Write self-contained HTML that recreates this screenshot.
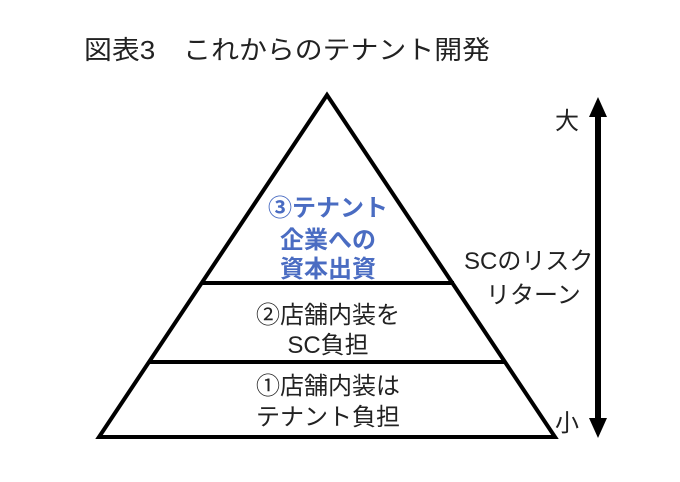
<!DOCTYPE html>
<html><head><meta charset="utf-8"><style>
html,body{margin:0;padding:0;background:#fff;}
svg{display:block;}
text{font-family:"Liberation Sans","Noto Sans CJK JP",sans-serif;}
</style></head><body>
<svg width="680" height="482" viewBox="0 0 680 482" xmlns="http://www.w3.org/2000/svg">
<text x="84" y="59" font-size="26" fill="#222" textLength="406" lengthAdjust="spacingAndGlyphs">図表3　これからのテナント開発</text>
<polygon points="327,95 99,437 555,437" fill="none" stroke="#000" stroke-width="4" stroke-linejoin="miter"/>
<line x1="201" y1="283" x2="454" y2="283" stroke="#000" stroke-width="4"/>
<line x1="149" y1="362" x2="506" y2="362" stroke="#000" stroke-width="4"/>
<g font-size="24" font-weight="bold" fill="#4a6cc2" text-anchor="middle">
<text x="328" y="216">③テナント</text>
<text x="328" y="248">企業への</text>
<text x="328" y="277">資本出資</text>
</g>
<g font-size="24" fill="#222" text-anchor="middle">
<text x="328" y="323">②店舗内装を</text>
<text x="328" y="353">SC負担</text>
<text x="328" y="394">①店舗内装は</text>
<text x="328" y="425">テナント負担</text>
</g>
<g font-size="24" fill="#222">
<text x="464" y="269">SCのリスク</text>
<text x="486" y="303">リターン</text>
<text x="555" y="129">大</text>
<text x="555" y="431">小</text>
</g>
<line x1="598" y1="112" x2="598" y2="422" stroke="#000" stroke-width="6"/>
<polygon points="598,97 589,117 607,117" fill="#000"/>
<polygon points="598,438 589,418 607,418" fill="#000"/>
</svg>
</body></html>
